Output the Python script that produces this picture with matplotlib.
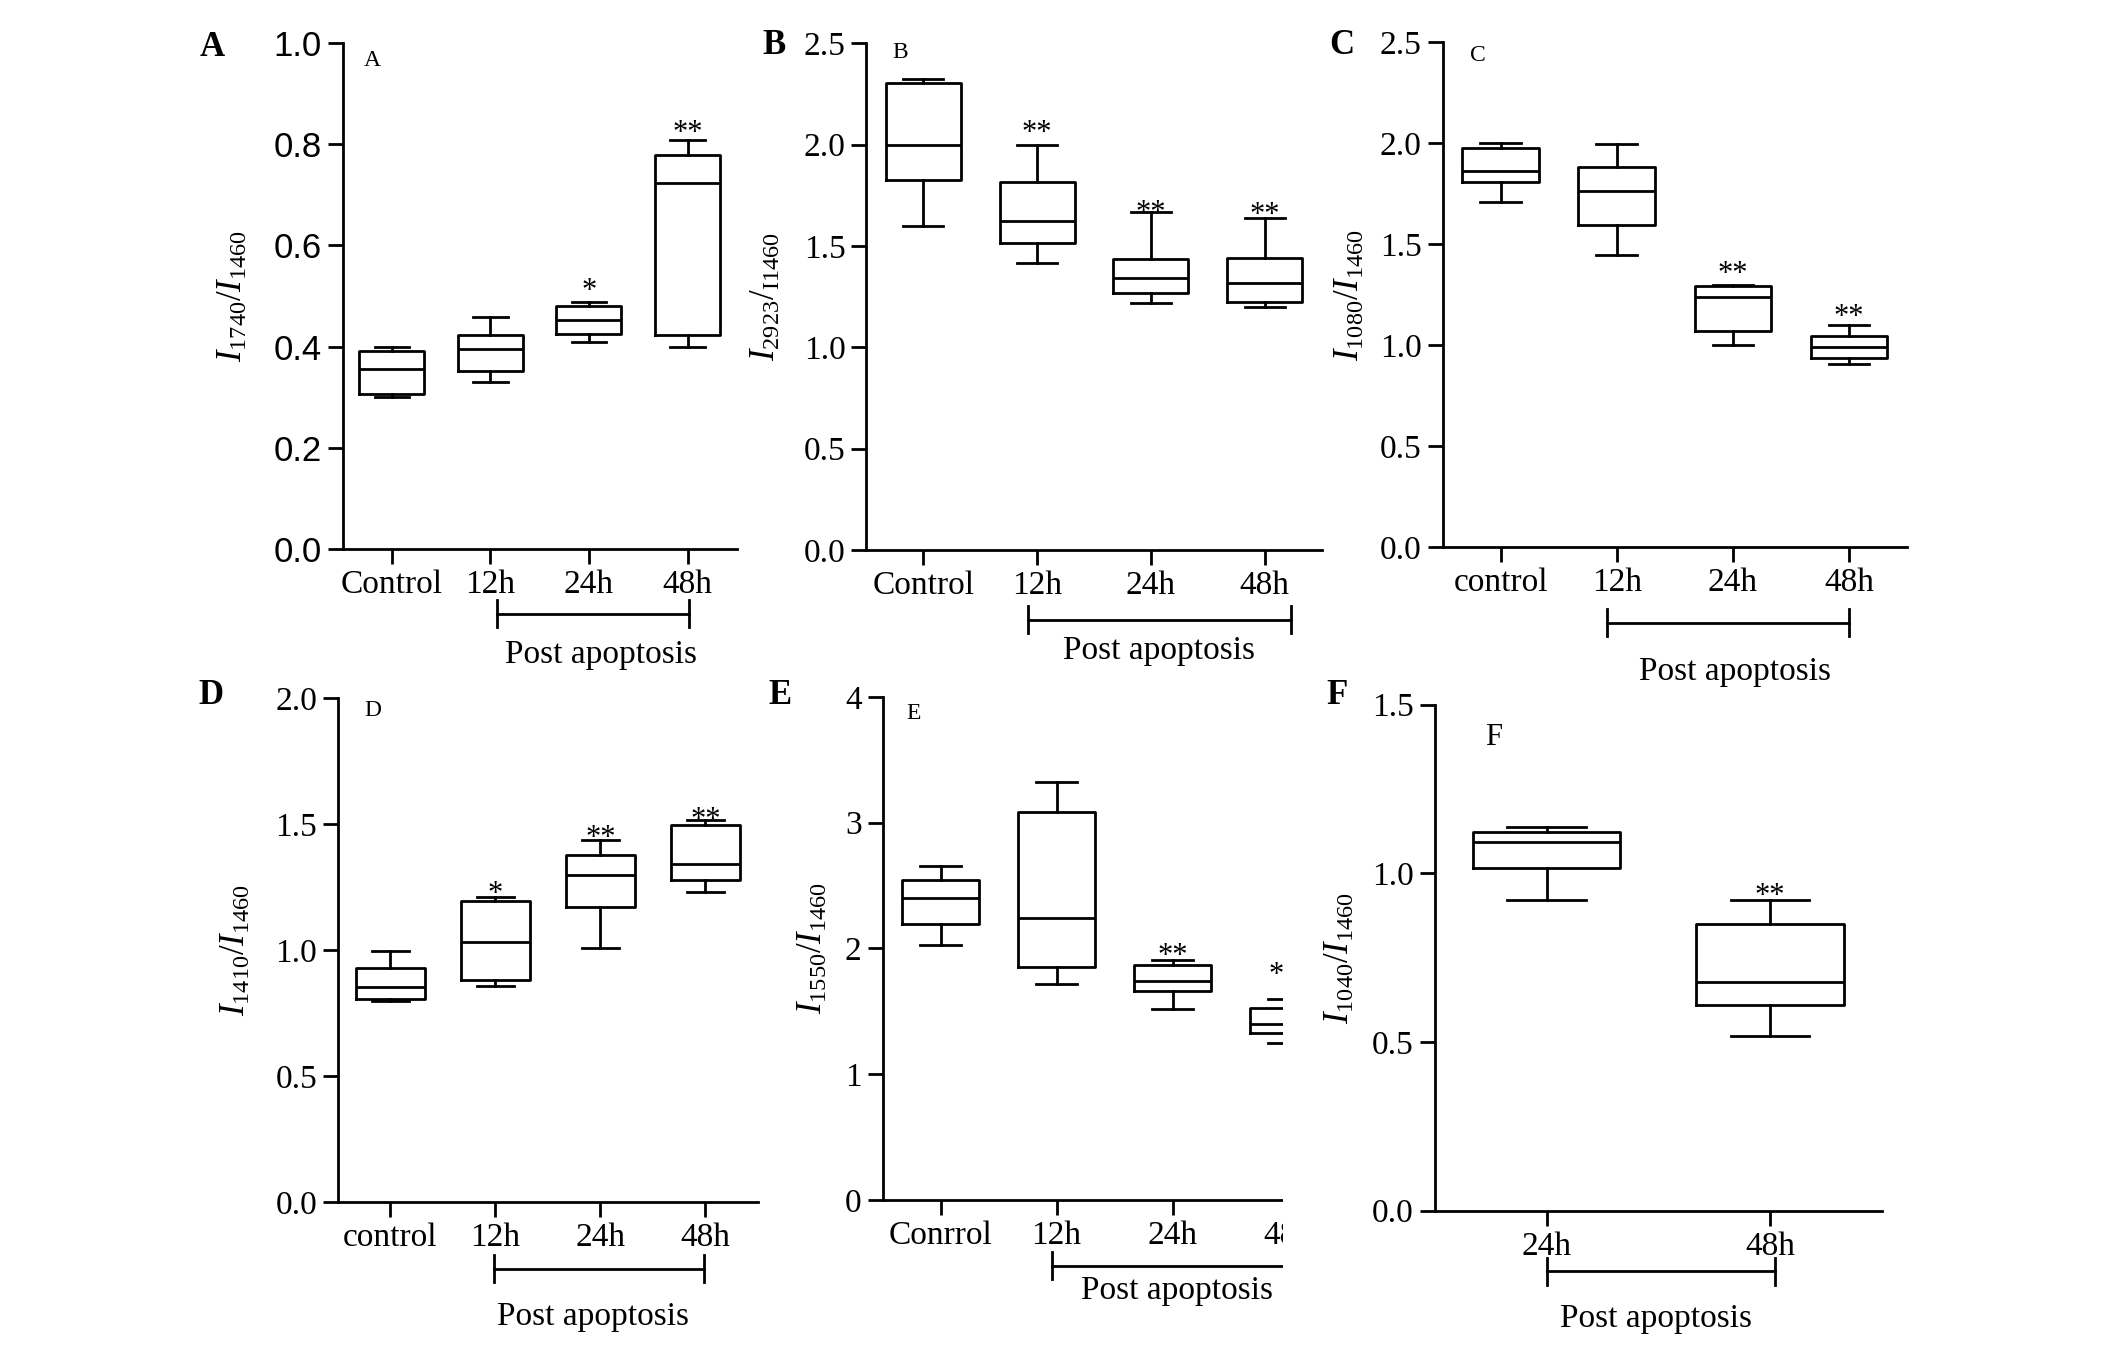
import matplotlib
matplotlib.use('Agg')
import matplotlib.pyplot as plt
import matplotlib.transforms as mtransforms
from matplotlib.patches import Rectangle

plt.rcParams['font.family'] = 'Liberation Serif'
plt.rcParams['mathtext.fontset'] = 'custom'
plt.rcParams['mathtext.rm'] = 'Liberation Serif'
plt.rcParams['mathtext.it'] = 'Liberation Serif:italic'

W, H = 2126, 1351

# each box: [whisker low, q1, median, q3, whisker high]
a_labels = ['Control', '12h', '24h', '48h']
a_boxes = [[0.300, 0.307, 0.355, 0.392, 0.400],
           [0.330, 0.352, 0.395, 0.422, 0.459],
           [0.409, 0.424, 0.453, 0.481, 0.489],
           [0.400, 0.422, 0.723, 0.779, 0.809]]
a_stars = ['', '', '*', '**']
a_star_y = [0, 0, 0.524, 0.837]

b_labels = ['Control', '12h', '24h', '48h']
b_boxes = [[1.599, 1.824, 1.997, 2.303, 2.325],
           [1.417, 1.515, 1.622, 1.817, 1.997],
           [1.220, 1.269, 1.344, 1.434, 1.670],
           [1.201, 1.222, 1.318, 1.441, 1.640]]
b_stars = ['', '**', '**', '**']
b_star_y = [0, 2.093, 1.697, 1.691]

c_labels = ['control', '12h', '24h', '48h']
c_boxes = [[1.706, 1.805, 1.861, 1.974, 2.000],
           [1.444, 1.594, 1.764, 1.882, 1.996],
           [1.000, 1.071, 1.236, 1.292, 1.296],
           [0.908, 0.936, 0.991, 1.043, 1.099]]
c_stars = ['', '', '**', '**']
c_star_y = [0, 0, 1.388, 1.174]

d_labels = ['control', '12h', '24h', '48h']
d_boxes = [[0.798, 0.805, 0.853, 0.929, 0.998],
           [0.859, 0.881, 1.033, 1.193, 1.210],
           [1.009, 1.172, 1.297, 1.376, 1.438],
           [1.229, 1.279, 1.343, 1.497, 1.516]]
d_stars = ['', '*', '**', '**']
d_star_y = [0, 1.25, 1.474, 1.547]

e_labels = ['Conrrol', '12h', '24h', '48h']
e_boxes = [[2.024, 2.193, 2.401, 2.546, 2.656],
           [1.717, 1.855, 2.238, 3.088, 3.323],
           [1.520, 1.665, 1.741, 1.865, 1.907],
           [1.250, 1.330, 1.399, 1.530, 1.599]]
e_stars = ['', '', '**', '*']
e_star_y = [0, 0, 2.0, 1.848]

f_labels = ['24h', '48h']
f_boxes = [[0.921, 1.016, 1.093, 1.124, 1.138],
           [0.518, 0.610, 0.679, 0.850, 0.921]]
f_stars = ['', '**']
f_star_y = [0, 0.953]

fig = plt.figure(figsize=(W / 100, H / 100), dpi=100)


def make_ax(l, t, r, b, z=0):
    return fig.add_axes([l / W, 1 - b / H, (r - l) / W, (b - t) / H], zorder=z)


def panel(ax, labels, boxes, stars, star_y, ymax, ystep, fmt, ylabel, ylab_x,
          small, small_xy, small_fs, br_x, br_y, txt_x, txt_y):
    n = len(labels)
    stats = [dict(whislo=b[0], q1=b[1], med=b[2], q3=b[3], whishi=b[4]) for b in boxes]
    lp = dict(color='k', lw=2)
    ax.bxp(stats, positions=range(n), widths=0.66, capwidths=0.35, showfliers=False,
           boxprops=lp, whiskerprops=lp, capprops=lp, medianprops=lp)
    ax.set_xlim(-0.5, n - 0.5)
    ax.set_ylim(0, ymax)
    yt = [i * ystep for i in range(int(round(ymax / ystep)) + 1)]
    ax.set_yticks(yt)
    ax.set_yticklabels([fmt.format(v) for v in yt])
    ax.set_xticks(range(n))
    ax.set_xticklabels(labels)
    for s in ['top', 'right']:
        ax.spines[s].set_visible(False)
    for s in ['left', 'bottom']:
        ax.spines[s].set_linewidth(2)
    ax.tick_params(length=11, width=2, labelsize=24, pad=4)
    ax.set_ylabel(ylabel, fontsize=25)
    ax.yaxis.set_label_coords(ylab_x, 0.5)
    for i in range(n):
        if stars[i]:
            ax.annotate(stars[i], (i, star_y[i]), xytext=(0, -11), textcoords='offset points',
                        ha='center', va='baseline', fontsize=22)
    ax.text(small_xy[0], small_xy[1], small, transform=ax.transAxes, fontsize=small_fs,
            ha='center', va='center')
    tr = mtransforms.blended_transform_factory(ax.transData, ax.transAxes)
    ax.plot(br_x, [br_y, br_y], transform=tr, clip_on=False, color='k', lw=2)
    for x in br_x:
        ax.plot([x, x], [br_y - 0.027, br_y + 0.027], transform=tr, clip_on=False, color='k', lw=2)
    ax.text(txt_x, txt_y, 'Post apoptosis', transform=tr, fontsize=24, ha='center', va='center')


axA = make_ax(342.6, 43.4, 736.8, 548.6)
panel(axA, a_labels, a_boxes, a_stars, a_star_y, 1.0, 0.2, '{:.1f}', r'$I_{1740}/I_{1460}$', -0.236,
      'A', (0.074, 0.966), 17, [1.07, 3.02], -0.129, 2.12, -0.21)
for t in axA.get_yticklabels():
    t.set_fontfamily('Liberation Sans')
    t.set_fontsize(25)

axB = make_ax(866.3, 43.4, 1321.7, 549.9)
panel(axB, b_labels, b_boxes, b_stars, b_star_y, 2.5, 0.5, '{:.1f}', r'$I_{2923}/_{\mathrm{I1460}}$', -0.183,
      'B', (0.074, 0.983), 17, [0.92, 3.23], -0.138, 2.07, -0.199)

axC = make_ax(1442.6, 42, 1907, 547)
panel(axC, c_labels, c_boxes, c_stars, c_star_y, 2.5, 0.5, '{:.1f}', r'$I_{1080}/I_{1460}$', -0.163,
      'C', (0.076, 0.973), 17, [0.92, 3.0], -0.150, 2.02, -0.247)

axD = make_ax(338, 698.2, 757.9, 1202)
panel(axD, d_labels, d_boxes, d_stars, d_star_y, 2.0, 0.5, '{:.1f}', r'$I_{1410}/I_{1460}$', -0.202,
      'D', (0.083, 0.975), 17, [0.99, 2.99], -0.132, 1.93, -0.228)

axE = make_ax(882.5, 696.9, 1346.5, 1199.9)
panel(axE, e_labels, e_boxes, e_stars, e_star_y, 4, 1, '{:.0f}', r'$I_{1550}/I_{1460}$', -0.114,
      'E', (0.067, 0.967), 17, [0.96, 3.3], -0.131, 2.04, -0.181)
# the last star in E sits just left of the cut
axE.texts[-3].set_position((-9, -11))

axF = make_ax(1434.8, 704.7, 1881.8, 1210.7, z=2)
axF.patch.set_alpha(0)
panel(axF, f_labels, f_boxes, f_stars, f_star_y, 1.5, 0.5, '{:.1f}', r'$I_{1040}/I_{1460}$', -0.174,
      'F', (0.132, 0.936), 22, [0.0, 1.02], -0.120, 0.49, -0.214)
axF.set_xlim(-0.5, 1.5)

# panel E is cut off on the right in the original figure
fig.add_artist(Rectangle((1283 / W, 1 - 1300 / H), (1355 - 1283) / W, (1300 - 680) / H,
                         transform=fig.transFigure, facecolor='white', edgecolor='none', zorder=1))

for lab, x, y in [('A', 212.5, 47.7), ('B', 774.4, 45.5), ('C', 1341.7, 45.5),
                  ('D', 210.6, 696), ('E', 779.6, 696), ('F', 1337, 696)]:
    fig.text(x / W, 1 - y / H, lab, fontsize=25, fontweight='bold', ha='center', va='center')

plt.savefig('out.png', dpi=100)
